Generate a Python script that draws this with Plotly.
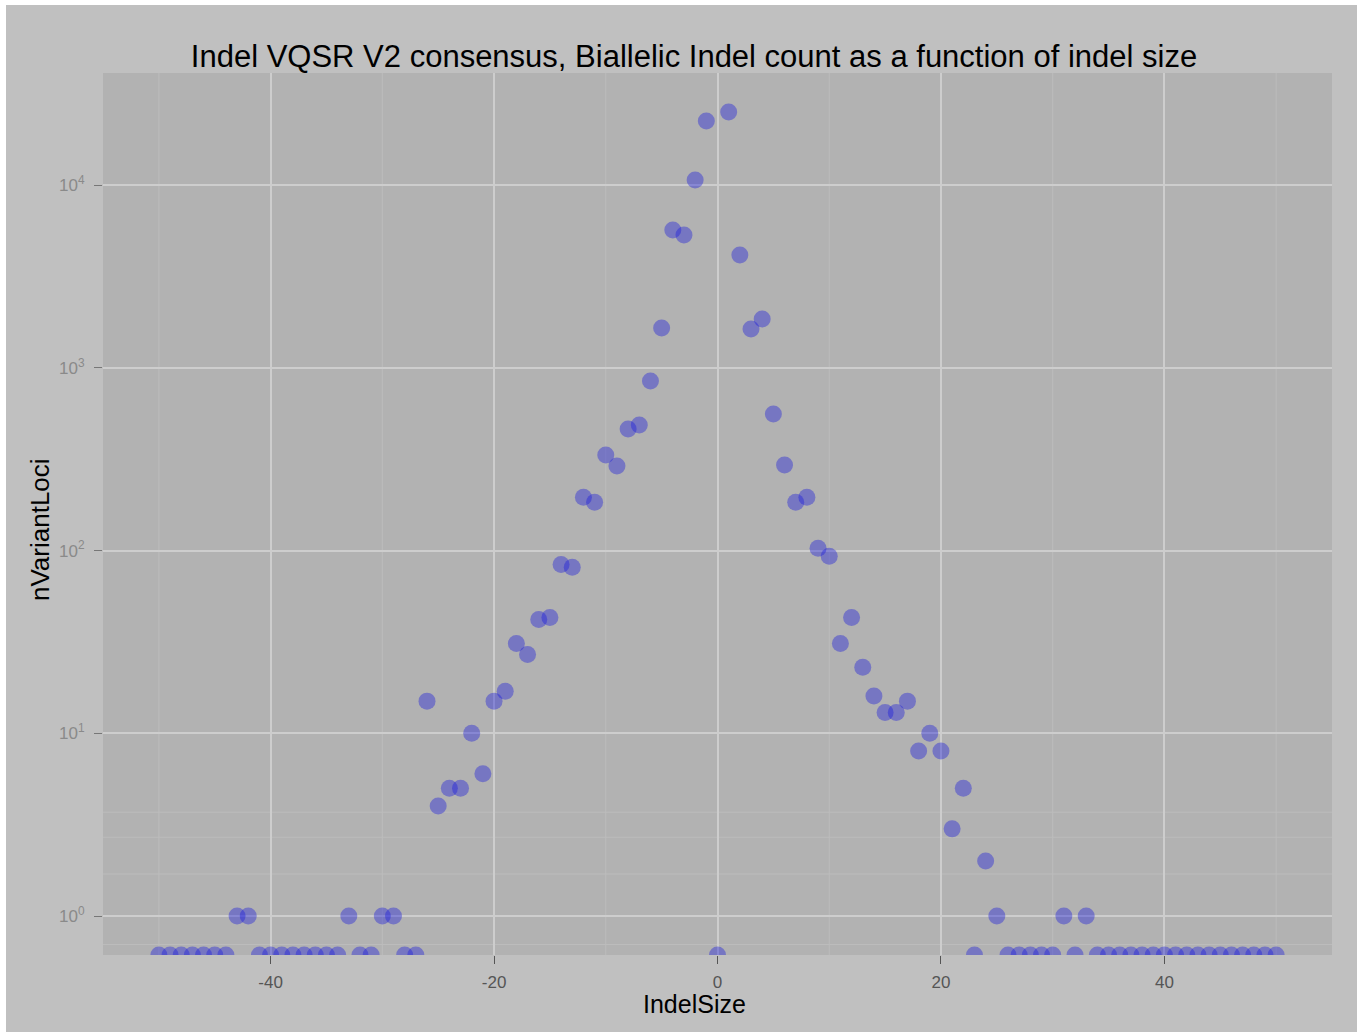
import numpy as np
import plotly.graph_objects as go

# Indel size (negative = deletion, positive = insertion) and number of biallelic loci
indel_size = list(range(-50, 51))
n_variant_loci = [
    # -50 .. -41
    0, 0, 0, 0, 0, 0, 0, 1, 1, 0,
    # -40 .. -31
    0, 0, 0, 0, 0, 0, 0, 1, 0, 0,
    # -30 .. -21
    1, 1, 0, 0, 15, 4, 5, 5, 10, 6,
    # -20 .. -11
    15, 17, 31, 27, 42, 43, 84, 81, 196, 184,
    # -10 .. -1
    333, 290, 462, 486, 846, 1650, 5670, 5330, 10650, 22400,
    # 0
    0,
    # 1 .. 10
    25100, 4140, 1630, 1850, 558, 294, 184, 196, 103, 93,
    # 11 .. 20
    31, 43, 23, 16, 13, 13, 15, 8, 10, 8,
    # 21 .. 30
    3, 5, 0, 2, 1, 0, 0, 0, 0, 0,
    # 31 .. 40
    1, 0, 1, 0, 0, 0, 0, 0, 0, 0,
    # 41 .. 50
    0, 0, 0, 0, 0, 0, 0, 0, 0, 0,
]

y_tick_vals = [1, 10, 100, 1000, 10000]
y_tick_text = ["10<sup>0</sup>", "10<sup>1</sup>", "10<sup>2</sup>",
               "10<sup>3</sup>", "10<sup>4</sup>"]
y_minor_vals = [5, 50, 500, 5000]
x_tick_vals = [-40, -20, 0, 20, 40]
x_tick_text = ["-40", "-20", "0", "20", "40"]
x_minor_vals = [-50, -30, -10, 10, 30, 50]

# log10 range of the y axis; zero counts sit on its lower edge
y_log_range = [-0.213, 4.613]
y_floor = 10 ** y_log_range[0]
counts = np.array(n_variant_loci, dtype=float)
y_plot = np.where(counts > 0, counts, y_floor)

W, H = 1363, 1032
ML, MR, MT, MB = 103, 31, 73, 77
PW, PH = W - ML - MR, H - MT - MB

outer_bg = "#c0c0c0"
panel_bg = "#b2b2b2"
major_grid = "#cdcdcd"
minor_grid = "#bcbcbc"

fig = go.Figure()
fig.add_trace(go.Scatter(
    x=indel_size,
    y=y_plot,
    mode="markers",
    marker=dict(size=17, color="rgba(20,20,220,0.38)", line=dict(width=0)),
    cliponaxis=True,
    hovertemplate="IndelSize %{x}<br>nVariantLoci %{customdata}<extra></extra>",
    customdata=n_variant_loci,
))


def px_x(p):
    return (p - ML) / PW


def px_y(p):
    return (H - MB - p) / PH


shapes = []
# minor grid lines (drawn below the major ones)
for v in x_minor_vals:
    shapes.append(dict(type="line", xref="x", yref="paper", x0=v, x1=v, y0=0, y1=1,
                       line=dict(color=minor_grid, width=1), layer="below"))
for v in y_minor_vals:
    shapes.append(dict(type="line", xref="paper", yref="y", x0=0, x1=1,
                       y0=np.log10(v), y1=np.log10(v),
                       line=dict(color=minor_grid, width=1), layer="below"))
# thin white frame along the left, top and right edges of the figure
for x0, x1, y0, y1 in [(0, 6, 0, H), (0, W, 0, 5), (1357, W, 0, H)]:
    shapes.append(dict(type="rect", xref="paper", yref="paper",
                       x0=px_x(x0), x1=px_x(x1), y0=px_y(y1), y1=px_y(y0),
                       fillcolor="white", line=dict(width=0), layer="above"))

fig.update_layout(
    width=W, height=H,
    margin=dict(l=ML, r=MR, t=MT, b=MB),
    paper_bgcolor=outer_bg,
    plot_bgcolor=panel_bg,
    showlegend=False,
    font=dict(family="Liberation Sans, Arial, sans-serif"),
    title=dict(
        text="Indel VQSR V2 consensus, Biallelic Indel count as a function of indel size",
        x=694 / W, xanchor="center", y=1 - 56 / H, yanchor="middle",
        font=dict(size=31, color="black"),
    ),
    xaxis=dict(
        range=[-55, 55],
        tickvals=x_tick_vals,
        ticktext=x_tick_text,
        ticks="outside", ticklen=8, tickwidth=1, tickcolor="#555555",
        tickfont=dict(size=17, color="#555555"),
        ticklabelstandoff=4,
        showgrid=True, gridcolor=major_grid, gridwidth=2,
        zeroline=False, showline=False,
    ),
    yaxis=dict(
        type="log",
        range=y_log_range,
        tickvals=y_tick_vals,
        ticktext=y_tick_text,
        ticks="outside", ticklen=8, tickwidth=1, tickcolor="#777777",
        tickfont=dict(size=17, color="#8a8a8a"),
        ticklabelstandoff=6,
        showgrid=True, gridcolor=major_grid, gridwidth=2,
        zeroline=False, showline=False,
    ),
    shapes=shapes,
    annotations=[
        dict(text="IndelSize", xref="paper", yref="paper",
             x=px_x(694), y=px_y(1004), xanchor="center", yanchor="middle",
             showarrow=False, font=dict(size=25, color="black")),
        dict(text="nVariantLoci", xref="paper", yref="paper",
             x=px_x(40), y=px_y(530), xanchor="center", yanchor="middle",
             textangle=-90, showarrow=False, font=dict(size=26, color="black")),
    ],
)

fig.write_html("out.html")
